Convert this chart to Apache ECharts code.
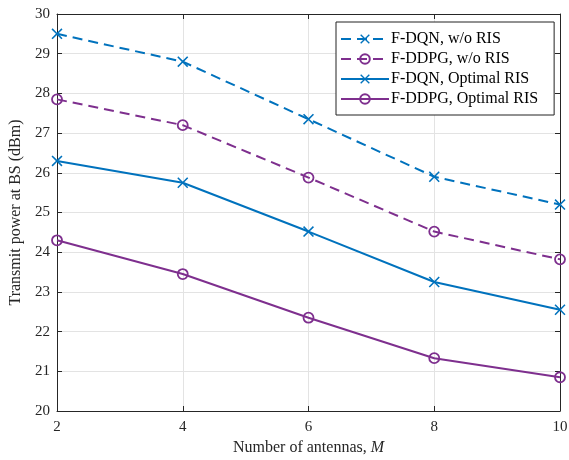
<!DOCTYPE html>
<html>
<head>
<meta charset="utf-8">
<script src="https://cdn.jsdelivr.net/npm/echarts@6/dist/echarts.min.js"></script>
<style>
  html, body { margin: 0; padding: 0; background: #fff; }
  #chart { width: 569px; height: 460px; }
</style>
</head>
<body>
<div id="chart"></div>
<script>
// Number of BS antennas
const antennas = [2, 4, 6, 8, 10];
// Transmit power at BS (dBm) per scheme
const dqnNoRis = [29.5, 28.8, 27.35, 25.9, 25.2];
const ddpgNoRis = [27.85, 27.2, 25.88, 24.52, 23.82];
const dqnOptRis = [26.3, 25.75, 24.52, 23.25, 22.55];
const ddpgOptRis = [24.3, 23.45, 22.35, 21.33, 20.85];
const yTicks = [20, 21, 22, 23, 24, 25, 26, 27, 28, 29, 30];
const xTicks = [2, 4, 6, 8, 10];

const BLUE = '#0072BD';
const PURPLE = '#7E2F8E';
const AXIS = '#262626';
const FONT = '"Liberation Serif", "DejaVu Serif", serif';
const CROSS = 'path://M0,1L1,0L5,4L9,0L10,1L6,5L10,9L9,10L5,6L1,10L0,9L4,5Z';

function pairs(ys) { return antennas.map((x, i) => [x, ys[i]]); }

function makeSeries(name, ys, color, dashed, symbol) {
  const isCircle = symbol === 'circle';
  return {
    name: name,
    type: 'line',
    data: pairs(ys),
    symbol: isCircle ? 'circle' : CROSS,
    symbolSize: isCircle ? 10 : 11,
    showAllSymbol: true,
    lineStyle: { color: color, width: 2, type: dashed ? [10, 6] : 'solid' },
    itemStyle: {
      color: isCircle ? 'rgba(0,0,0,0)' : color,
      borderColor: color,
      borderWidth: isCircle ? 1.8 : 0
    },
    emphasis: { disabled: true },
    z: 3
  };
}

const chart = echarts.init(document.getElementById('chart'), null, { renderer: 'canvas' });

const axisCommon = {
  axisLine: { show: true, lineStyle: { color: AXIS, width: 1 } },
  axisTick: { show: true, inside: true, length: 5, lineStyle: { color: AXIS } },
};

chart.setOption({
  animation: false,
  backgroundColor: '#fff',
  textStyle: { fontFamily: FONT },
  grid: { left: 57, right: 9, top: 14, bottom: 49, containLabel: false, outerBoundsMode: 'none' },
  legend: {
    left: 336, top: 22,
    orient: 'vertical',
    backgroundColor: '#fff',
    borderColor: '#222',
    borderWidth: 1,
    borderRadius: 0,
    padding: [9, 16, 8, 4],
    itemWidth: 48,
    itemHeight: 12,
    itemGap: 4,
    textStyle: { fontFamily: FONT, fontSize: 16, color: '#000', padding: [0, 0, 0, -3] },
    data: ['F-DQN, w/o RIS', 'F-DDPG, w/o RIS', 'F-DQN, Optimal RIS', 'F-DDPG, Optimal RIS']
  },
  xAxis: [{
    type: 'value', min: 2, max: 10, interval: 2,
    ...axisCommon,
    axisLabel: { color: AXIS, fontSize: 15, fontFamily: FONT, margin: 9 },
    splitLine: { show: true, lineStyle: { color: '#e3e3e3', width: 1 } },
    name: '{n|Number of antennas, }{m|M}',
    nameLocation: 'middle', nameGap: 27,
    nameTextStyle: {
      rich: {
        n: { fontFamily: FONT, fontSize: 16, color: AXIS },
        m: { fontFamily: FONT, fontSize: 16, color: AXIS, fontStyle: 'italic' }
      }
    }
  }, {
    type: 'value', position: 'top', min: 2, max: 10, interval: 2,
    ...axisCommon,
    axisLabel: { show: false }, splitLine: { show: false }
  }],
  yAxis: [{
    type: 'value', min: 20, max: 30, interval: 1,
    ...axisCommon,
    axisLabel: { color: AXIS, fontSize: 15, fontFamily: FONT, margin: 7 },
    splitLine: { show: true, lineStyle: { color: '#e3e3e3', width: 1 } },
    name: 'Transmit power at BS (dBm)',
    nameLocation: 'middle', nameGap: 31,
    nameTextStyle: { fontFamily: FONT, fontSize: 16, color: AXIS }
  }, {
    type: 'value', position: 'right', min: 20, max: 30, interval: 1,
    ...axisCommon,
    axisLabel: { show: false }, splitLine: { show: false }
  }],
  series: [
    makeSeries('F-DQN, w/o RIS', dqnNoRis, BLUE, true, 'cross'),
    makeSeries('F-DDPG, w/o RIS', ddpgNoRis, PURPLE, true, 'circle'),
    makeSeries('F-DQN, Optimal RIS', dqnOptRis, BLUE, false, 'cross'),
    makeSeries('F-DDPG, Optimal RIS', ddpgOptRis, PURPLE, false, 'circle')
  ]
});
</script>
</body>
</html>
